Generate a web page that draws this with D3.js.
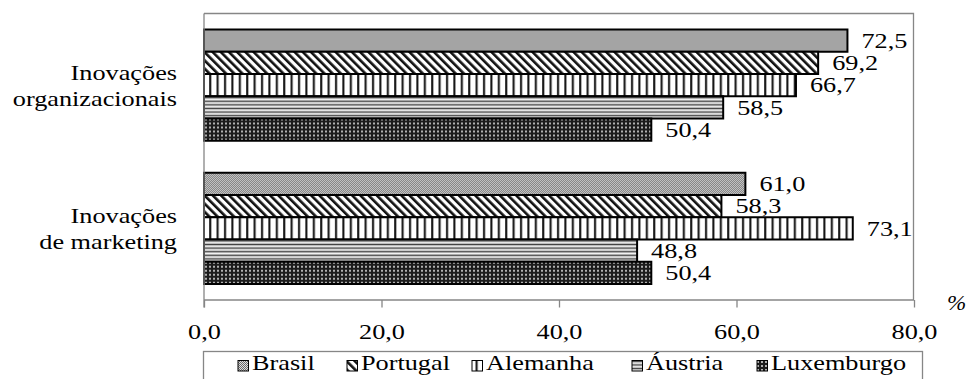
<!DOCTYPE html>
<html>
<head>
<meta charset="utf-8">
<script src="https://cdn.jsdelivr.net/npm/d3@7"></script>
<style>
  html, body { margin: 0; padding: 0; background: #fff; }
  svg { display: block; }
</style>
</head>
<body>
<svg id="chart" width="968" height="379"></svg>
<script>
// Share of firms (%) reporting each type of innovation, by country
const categories = ["Inovações organizacionais", "Inovações de marketing"];
const categoryLines = [["Inovações", "organizacionais"], ["Inovações", "de marketing"]];
const countries = ["Brasil", "Portugal", "Alemanha", "Áustria", "Luxemburgo"];
const brasil     = [72.5, 61.0];
const portugal   = [69.2, 58.3];
const alemanha   = [66.7, 73.1];
const austria    = [58.5, 48.8];
const luxemburgo = [50.4, 50.4];
const seriesValues = [brasil, portugal, alemanha, austria, luxemburgo];
const xTicks = [0, 20, 40, 60, 80];
const xTickLabels = ["0,0", "20,0", "40,0", "60,0", "80,0"];
const unitLabel = "%";

const fmt = v => v.toFixed(1).replace(".", ",");

const svg = d3.select("#chart");
const FONT = "'Liberation Serif', 'Times New Roman', serif";
const FS = 21, SX = 1.25;           // font size and horizontal stretch of the text
const axisColor = "#868686";

function label(sel) {
  return sel.style("font-family", FONT).style("font-size", FS + "px").style("fill", "#000");
}

// ---- fill patterns for each country
const defs = svg.append("defs");
function pat(id, w, h, draw, transform) {
  const p = defs.append("pattern").attr("id", id)
    .attr("patternUnits", "userSpaceOnUse").attr("width", w).attr("height", h);
  if (transform) p.attr("patternTransform", transform);
  draw(p);
}
// Brasil: fine dotted grey
pat("p0", 2, 2, p => {
  p.append("rect").attr("width", 2).attr("height", 2).attr("fill", "#dedede");
  p.append("rect").attr("width", 1).attr("height", 1).attr("fill", "#6a6a6a");
  p.append("rect").attr("x", 1).attr("y", 1).attr("width", 1).attr("height", 1).attr("fill", "#6a6a6a");
});
// Portugal: wide downward diagonal
pat("p1", 5.8, 5.8, p => {
  p.append("rect").attr("width", 5.8).attr("height", 5.8).attr("fill", "#fff");
  p.append("rect").attr("width", 2.6).attr("height", 5.8).attr("fill", "#111");
}, "rotate(-45)");
// Alemanha: vertical lines
pat("p2", 7.4, 4, p => {
  p.append("rect").attr("width", 7.4).attr("height", 4).attr("fill", "#fff");
  p.append("rect").attr("x", 2).attr("width", 1.8).attr("height", 4).attr("fill", "#111");
  p.append("rect").attr("x", 3.8).attr("width", 0.8).attr("height", 4).attr("fill", "#999");
});
// Áustria: narrow horizontal lines
pat("p3", 4, 3.6, p => {
  p.append("rect").attr("width", 4).attr("height", 3.6).attr("fill", "#f2f2f2");
  p.append("rect").attr("y", 0.6).attr("width", 4).attr("height", 1.5).attr("fill", "#444");
});
// Luxemburgo: dark with small light dots
pat("p4", 4, 4, p => {
  p.append("rect").attr("width", 4).attr("height", 4).attr("fill", "#1c1c1c");
  p.append("rect").attr("x", 1).attr("y", 1).attr("width", 2).attr("height", 2).attr("fill", "#b0b0b0");
});

// ---- scales
const plot = { left: 204, right: 914, top: 13.5, bottom: 300 };
const x = d3.scaleLinear().domain([0, 80]).range([plot.left, plot.right]);
const y0 = d3.scaleBand().domain(categories).range([plot.top, plot.bottom]).padding(0);
const y1 = d3.scaleBand().domain(countries).range([16, y0.bandwidth() - 16]).padding(0);

// ---- plot area frame (top and right edges)
svg.append("path")
  .attr("d", `M${plot.left},${plot.top}H${plot.right - 0.5}V${plot.bottom}`)
  .attr("fill", "none").attr("stroke", axisColor).attr("stroke-width", 1.3);

// ---- bars
const groups = svg.append("g").selectAll("g").data(categories).join("g")
  .attr("transform", c => `translate(0,${y0(c)})`);

groups.each(function (c, ci) {
  const g = d3.select(this);
  const rows = countries.map((name, si) => ({ name, si, v: seriesValues[si][ci] }));
  g.selectAll("rect").data(rows).join("rect")
    .attr("x", x(0))
    .attr("y", d => y1(d.name))
    .attr("width", d => x(d.v) - x(0))
    .attr("height", y1.bandwidth())
    .attr("fill", d => `url(#p${d.si})`)
    .attr("stroke", "#000").attr("stroke-width", 2);
  g.selectAll("text.val").data(rows).join("text").attr("class", "val")
    .attr("transform", d => `translate(${x(d.v) + 14},${y1(d.name) + y1.bandwidth() / 2 + 7.2}) scale(${SX},1)`)
    .call(label)
    .text(d => fmt(d.v));
});

// ---- x axis
const xAxis = d3.axisBottom(x).tickValues(xTicks).tickSize(7.5)
  .tickFormat((d, i) => xTickLabels[i]);
const ax = svg.append("g").attr("transform", `translate(0,${plot.bottom})`).call(xAxis);
ax.select(".domain").attr("stroke", axisColor).attr("stroke-width", 1.3)
  .attr("d", `M${plot.left},0H${plot.right}`);
ax.selectAll(".tick line").attr("stroke", axisColor).attr("stroke-width", 1.3);
ax.selectAll(".tick text")
  .call(label)
  .attr("y", 0).attr("dy", 0)
  .attr("transform", `translate(0,39) scale(${SX},1)`);

// ---- y axis line (category axis)
const yAxis = d3.axisLeft(y0).tickSize(0).tickFormat("");
const ay = svg.append("g").attr("transform", `translate(${plot.left},0)`).call(yAxis);
ay.select(".domain").attr("stroke", axisColor).attr("stroke-width", 1.3)
  .attr("d", `M0,${plot.top}V${plot.bottom + 7.5}`);

// ---- category labels
categories.forEach((c, i) => {
  const cy = y0(c) + y0.bandwidth() / 2;
  categoryLines[i].forEach((line, li) => {
    svg.append("text")
      .attr("transform", `translate(177,${cy - 5 + li * 25.5}) scale(${SX},1)`)
      .attr("text-anchor", "end")
      .call(label)
      .text(line);
  });
});

// ---- unit label
svg.append("text")
  .attr("transform", `translate(947,310) scale(1.1,1)`)
  .call(label)
  .style("font-style", "italic")
  .text(unitLabel);

// ---- legend
const legend = svg.append("g");
legend.append("rect")
  .attr("x", 203.5).attr("y", 351.5).attr("width", 719).attr("height", 40)
  .attr("fill", "none").attr("stroke", axisColor).attr("stroke-width", 1.3);
const legendX = [238, 347, 472, 632, 757];
countries.forEach((name, i) => {
  legend.append("rect")
    .attr("x", legendX[i]).attr("y", 360.5).attr("width", 10.5).attr("height", 10.5)
    .attr("fill", `url(#p${i})`).attr("stroke", "#000").attr("stroke-width", 1);
  legend.append("text")
    .attr("transform", `translate(${legendX[i] + 14},370) scale(${SX},1)`)
    .call(label)
    .text(name);
});
</script>
</body>
</html>
